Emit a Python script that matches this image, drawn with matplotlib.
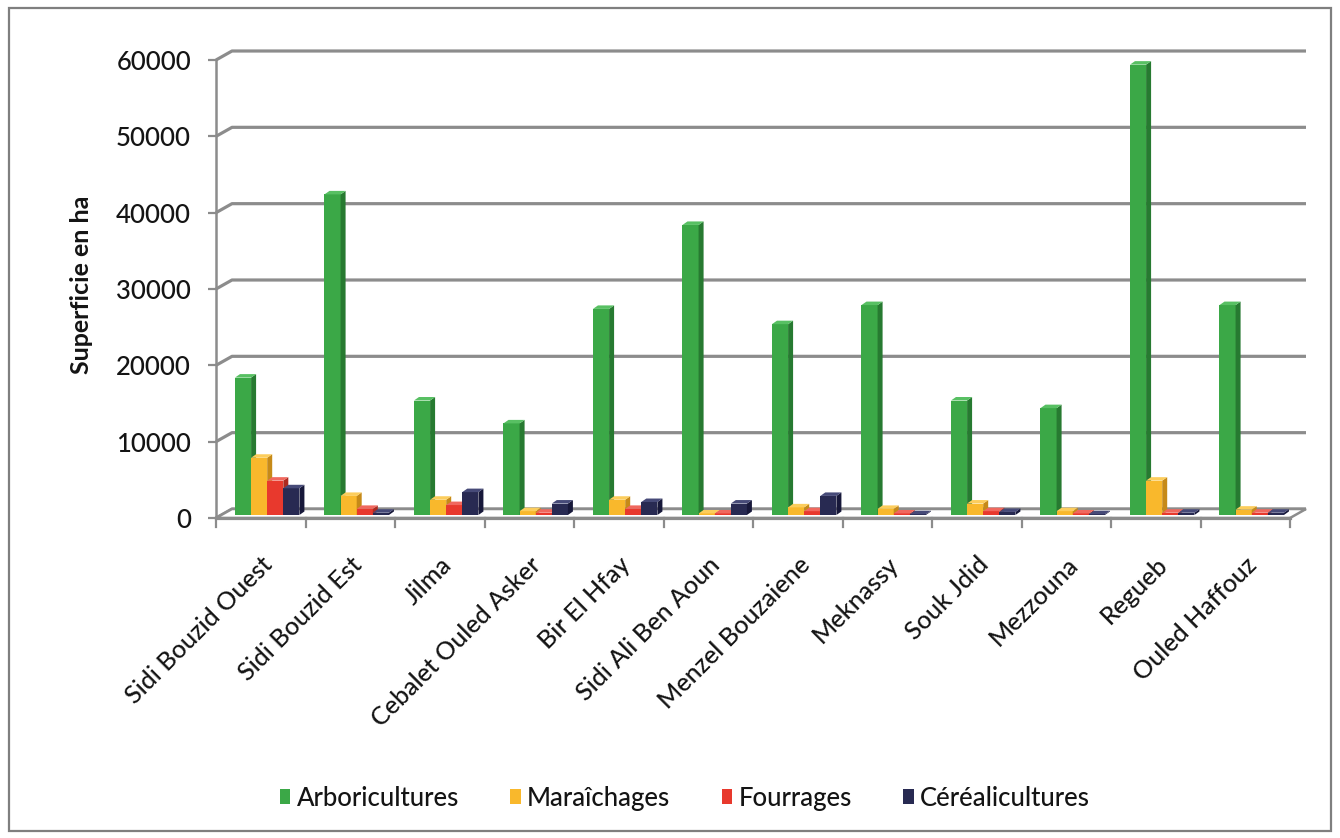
import matplotlib
matplotlib.use("Agg")
import matplotlib.pyplot as plt
from matplotlib.patches import Polygon, Rectangle, Patch
import numpy as np

plt.rcParams['font.family'] = ['Lato', 'DejaVu Sans']
plt.rcParams['font.weight'] = 'medium'

# ---- data -----------------------------------------------------------------
delegations = ["Sidi Bouzid Ouest", "Sidi Bouzid Est", "Jilma", "Cebalet Ouled Asker",
               "Bir El Hfay", "Sidi Ali Ben Aoun", "Menzel Bouzaiene", "Meknassy",
               "Souk Jdid", "Mezzouna", "Regueb", "Ouled Haffouz"]
arboricultures = [18000, 42000, 15000, 12000, 27000, 38000, 25000, 27500, 15000, 14000, 59000, 27500]
maraichages = [7500, 2500, 2000, 500, 2000, 200, 1000, 800, 1500, 500, 4500, 700]
fourrages = [4500, 800, 1300, 300, 800, 200, 500, 200, 500, 200, 300, 300]
cerealicultures = [3500, 300, 3000, 1500, 1700, 1500, 2500, 100, 400, 100, 300, 300]
series_names = ["Arboricultures", "Maraîchages", "Fourrages", "Céréalicultures"]
y_ticks = [0, 10000, 20000, 30000, 40000, 50000, 60000]

series = [arboricultures, maraichages, fourrages, cerealicultures]
front_cols = ["#3ba847", "#f9b82c", "#e8392d", "#282a52"]
side_cols = ["#277a31", "#c68a18", "#ad2a20", "#17183a"]
top_cols = ["#58c063", "#fccd5c", "#f0685e", "#464a78"]
text_col = "#141414"

# ---- figure / axes --------------------------------------------------------
W, H = 1340, 838
fig = plt.figure(figsize=(W / 100, H / 100), dpi=100)
fig.patch.set_facecolor("white")
fig.add_artist(Rectangle((9 / W, 7 / H), (W - 18) / W, (H - 15) / H,
                         transform=fig.transFigure, fill=False,
                         edgecolor="#7f7f7f", linewidth=1.6))

x0, x1, y0, y1 = 216, 1290, 518, 60
ax = fig.add_axes([x0 / W, (H - y0) / H, (x1 - x0) / W, (y0 - y1) / H])
n = len(delegations)
ax.set_xlim(-0.5, n - 0.5)
ax.set_ylim(0, 60000)
ax.set_facecolor("none")

px_x = n / (x1 - x0)            # data units per pixel (x)
px_y = 60000 / (y0 - y1)        # data units per pixel (y)

grid_col = "#8c8c8c"
wdx, wdy = 16 * px_x, 9 * px_y   # back wall depth
bdx, bdy = 5 * px_x, 3.5 * px_y  # bar depth

# back wall gridlines with their small diagonal connectors
for v in y_ticks:
    ax.plot([-0.5, -0.5 + wdx, n - 0.5 + wdx], [v, v + wdy, v + wdy],
            color=grid_col, lw=2.3, clip_on=False, zorder=1, solid_capstyle="butt")

# floor
floor = Polygon([(-0.5, 0), (n - 0.5, 0), (n - 0.5 + wdx, wdy), (-0.5 + wdx, wdy)],
                closed=True, facecolor="white", edgecolor=grid_col, lw=1.8,
                clip_on=False, zorder=1.5)
ax.add_patch(floor)

# bars with side and top faces
bw = 0.18
offs = [-0.198 + k * bw for k in range(4)]
base = 3 * px_y
for k, vals in enumerate(series):
    for i, v in enumerate(vals):
        xl = i + offs[k] - bw / 2
        xr = xl + bw
        top = max(v, 0) + base
        z = 3 + k * 0.01
        ax.bar(xl + bw / 2, top - base, width=bw, bottom=base, color=front_cols[k],
               edgecolor="none", zorder=z, clip_on=False)
        ax.add_patch(Polygon([(xr, base), (xr + bdx, base + bdy), (xr + bdx, top + bdy), (xr, top)],
                             closed=True, facecolor=side_cols[k], edgecolor="none",
                             zorder=z, clip_on=False))
        ax.add_patch(Polygon([(xl, top), (xr, top), (xr + bdx, top + bdy), (xl + bdx, top + bdy)],
                             closed=True, facecolor=top_cols[k], edgecolor="none",
                             zorder=z, clip_on=False))

# axes styling
for s in ["top", "right"]:
    ax.spines[s].set_visible(False)
ax.spines["left"].set_color(grid_col)
ax.spines["left"].set_linewidth(1.8)
ax.spines["bottom"].set_color(grid_col)
ax.spines["bottom"].set_linewidth(2.3)
ax.spines["bottom"].set_zorder(5)

ax.set_yticks(y_ticks)
ax.set_yticklabels([str(v) for v in y_ticks])
ax.tick_params(axis="y", length=6, width=1.6, color=grid_col, labelsize=18.5,
               labelcolor=text_col, pad=12)

ax.set_xticks(range(n))
ax.set_xticklabels(delegations, rotation=45, ha="right", rotation_mode="anchor")
ax.tick_params(axis="x", length=0, labelsize=18, labelcolor=text_col, pad=25)

# category separator ticks on the front edge
for b in np.arange(-0.5, n, 1.0):
    ax.plot([b, b], [0, -9 * px_y], color=grid_col, lw=1.6, clip_on=False, zorder=5)

ax.set_ylabel("Superficie en ha", fontsize=18, fontweight="bold", color=text_col)
ax.yaxis.set_label_coords((93 - x0) / (x1 - x0), (y0 - 285) / (y0 - y1))

handles = [Patch(facecolor=c, edgecolor="none") for c in front_cols]
fig.legend(handles, series_names, loc="center", bbox_to_anchor=(685 / W, 40 / H), ncol=4,
           frameon=False, fontsize=18.5, handlelength=0.4, handleheight=0.55,
           handletextpad=0.25, columnspacing=2.0, labelcolor=text_col)

fig.savefig("out.png", dpi=100, facecolor="white")
